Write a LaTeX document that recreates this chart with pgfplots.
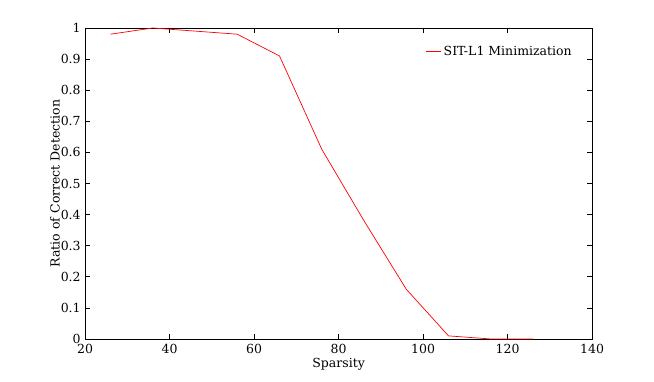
\documentclass[border=0pt]{standalone}
\usepackage{pgfplots}
\pgfplotsset{compat=1.18}
\usepackage{fontspec}
\setmainfont{DejaVu Serif}
\begin{document}
\begin{tikzpicture}
\begin{axis}[
    width=507pt, height=311pt,
    scale only axis,
    xmin=20, xmax=140,
    ymin=0, ymax=1,
    xtick={20,40,...,140},
    ytick={0,0.1,...,1},
    yticklabels={0,0.1,0.2,0.3,0.4,0.5,0.6,0.7,0.8,0.9,1},
    tick align=inside,
    major tick length=5pt,
    tick style={black, line width=0.6pt},
    axis line style={line width=0.8pt},
    xlabel={Sparsity},
    ylabel={Ratio of Correct Detection},
    xlabel style={yshift=3pt},
    ylabel style={yshift=-6pt},
    xticklabel style={yshift=-2pt},
    yticklabel style={xshift=-1pt},
    every tick label/.style={font=\fontsize{12.5}{14}\selectfont},
    label style={font=\fontsize{12.5}{14}\selectfont},
    /pgf/number format/assume math mode=true,
    legend style={draw=none, fill=none, at={(0.97,0.955)}, anchor=north east,
        font=\fontsize{12.5}{14}\selectfont},
    legend cell align=left,
    legend image code/.code={\draw[red, line width=0.8pt] (0cm,0cm) -- (0.55cm,0cm);},
    clip=false,
]
\addplot[red, line width=0.7pt] coordinates {
    (26,0.98) (36,1.0) (46,0.99) (56,0.98) (66,0.91) (76,0.61)
    (86,0.38) (96,0.16) (106,0.01) (116,0.0) (126,0.0)
};
\addlegendentry{SIT-L1 Minimization}
\path (rel axis cs:-0.168,-0.138) rectangle (rel axis cs:1.122,1.090);
\end{axis}
\end{tikzpicture}
\end{document}
